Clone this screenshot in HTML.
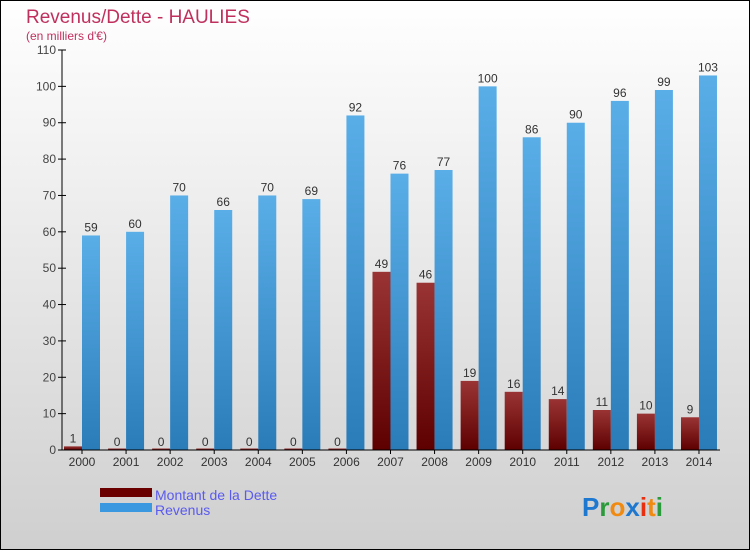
<!DOCTYPE html>
<html><head><meta charset="utf-8"><style>
body{margin:0}
#c{width:750px;height:550px;position:relative;overflow:hidden;font-family:"Liberation Sans",sans-serif}
</style></head><body>
<div id="c">
<svg id="s" width="750" height="550" xmlns="http://www.w3.org/2000/svg">
<defs>
<linearGradient id="bg" x1="0" y1="0" x2="0" y2="1"><stop offset="0" stop-color="#ffffff"/><stop offset="1" stop-color="#cfcfcf"/></linearGradient>
<linearGradient id="gb" x1="0" y1="0" x2="0" y2="1"><stop offset="0" stop-color="#5aaee8"/><stop offset="1" stop-color="#2a7cb8"/></linearGradient>
<linearGradient id="gr" x1="0" y1="0" x2="0" y2="1"><stop offset="0" stop-color="#9a3434"/><stop offset="1" stop-color="#5e0000"/></linearGradient>
</defs>
<rect x="0.5" y="0.5" width="749" height="549" fill="url(#bg)" stroke="#000"/>
<text x="26" y="23" font-size="19" fill="#c0305e">Revenus/Dette - HAULIES</text>
<text x="26" y="40" font-size="12" fill="#c0305e">(en milliers d'€)</text>
<g id="plot"></g>
<rect x="100" y="488" width="52" height="9" fill="#6a0000"/>
<rect x="100" y="503" width="52" height="9" fill="#3a98e0"/>
<text x="155" y="500" font-size="14" fill="#5a5af0">Montant de la Dette</text>
<text x="155" y="515" font-size="14" fill="#5a5af0">Revenus</text>
<text x="582" y="516" font-size="26" font-weight="bold"><tspan fill="#1e78d0">P</tspan><tspan fill="#2a9a3a">r</tspan><tspan fill="#f08a10">o</tspan><tspan fill="#1e78d0">x</tspan><tspan fill="#e83010">i</tspan><tspan fill="#f08a10">t</tspan><tspan fill="#2a9a3a">i</tspan></text>
</svg>
</div>
<script>
const categories=["2000","2001","2002","2003","2004","2005","2006","2007","2008","2009","2010","2011","2012","2013","2014"];
const dette=[1,0,0,0,0,0,0,49,46,19,16,14,11,10,9];
const revenus=[59,60,70,66,70,69,92,76,77,100,86,90,96,99,103];
const yTicks=[0,10,20,30,40,50,60,70,80,90,100,110];
const NS="http://www.w3.org/2000/svg";
const g=document.getElementById('plot');
const x0=62,y0=450,yTop=50,yMax=110,c0=82,step=44.07,bw=18;
const y=v=>y0-(v/yMax)*(y0-yTop);
const xc=i=>c0+i*step;
function mk(t,a){const e=document.createElementNS(NS,t);for(const k in a)e.setAttribute(k,a[k]);g.appendChild(e);return e;}
yTicks.forEach(t=>{
  const l=mk('line',{x1:x0-4,x2:x0+4,y1:y(t),y2:y(t),stroke:'#000'});
  
  
  const tx=mk('text',{x:x0-6,y:y(t)+4,'font-size':12,fill:'#444','text-anchor':'end'});
  tx.textContent=t;
  
  
});
categories.forEach((c,i)=>{
  const cx=xc(i);
  const hr=Math.max(y0-y(dette[i]),1.5);
  const r=mk('rect',{x:cx-bw,y:y0-hr,width:bw,height:hr,fill:'url(#gr)'});
  
  
  const b=mk('rect',{x:cx,y:y(revenus[i]),width:bw,height:y0-y(revenus[i]),fill:'url(#gb)'});
  
  
  const t1=mk('text',{x:cx-bw/2,y:y(dette[i])-4,'font-size':12,fill:'#333','text-anchor':'middle'});
  t1.textContent=dette[i];
  
  
  const t2=mk('text',{x:cx+bw/2,y:y(revenus[i])-4,'font-size':12,fill:'#333','text-anchor':'middle'});
  t2.textContent=revenus[i];
  
  
  const tk=mk('line',{x1:cx,x2:cx,y1:y0,y2:y0+4,stroke:'#000'});
  
  
  const xl=mk('text',{x:cx,y:y0+16,'font-size':12,fill:'#333','text-anchor':'middle'});
  xl.textContent=c;
  
  
});
const ya=mk('line',{x1:x0,x2:x0,y1:yTop,y2:y0,stroke:'#000'});


const xa=mk('line',{x1:x0,x2:720,y1:y0,y2:y0,stroke:'#000'});


</script>
</body></html>
